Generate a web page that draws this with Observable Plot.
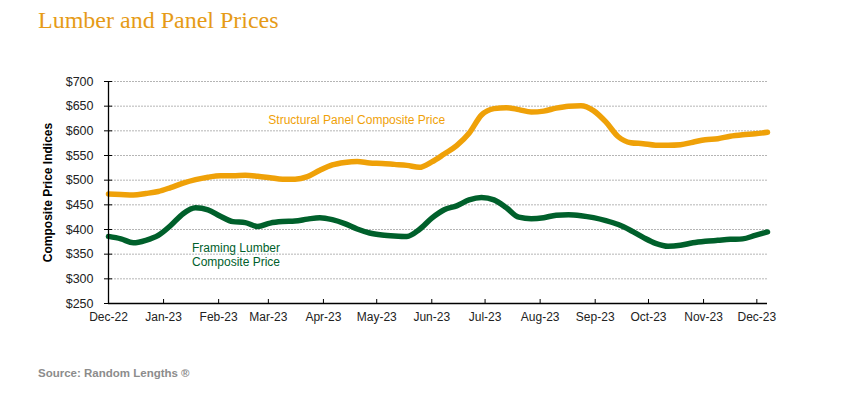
<!DOCTYPE html>
<html>
<head>
<meta charset="utf-8">
<script src="https://cdn.jsdelivr.net/npm/d3@7"></script>
<script src="https://cdn.jsdelivr.net/npm/@observablehq/plot@0.6"></script>
<style>
  html, body { margin: 0; padding: 0; background: #fff; }
  body { width: 848px; height: 397px; position: relative; overflow: hidden; font-family: "Liberation Sans", Arial, sans-serif; }
  #title { position: absolute; left: 38px; top: 8px; font-family: "Liberation Serif", Georgia, serif; font-size: 24px; line-height: 24px; color: #E69B17; white-space: nowrap; }
  #chart { position: absolute; left: 0; top: 40px; }
  #source { position: absolute; left: 38px; top: 366px; font-size: 11.5px; line-height: 14px; font-weight: bold; color: #8c8c8c; white-space: nowrap; }
</style>
</head>
<body>
<div id="title">Lumber and Panel Prices</div>
<div id="chart"></div>
<div id="source">Source: Random Lengths &#174;</div>
<script>
const weeks = [
  "2022-12-01","2022-12-08","2022-12-15","2022-12-22","2022-12-29",
  "2023-01-05","2023-01-12","2023-01-19","2023-01-26",
  "2023-02-02","2023-02-09","2023-02-16","2023-02-23",
  "2023-03-02","2023-03-09","2023-03-16","2023-03-23","2023-03-30",
  "2023-04-06","2023-04-13","2023-04-20","2023-04-27",
  "2023-05-04","2023-05-11","2023-05-18","2023-05-25",
  "2023-06-01","2023-06-08","2023-06-15","2023-06-22","2023-06-29",
  "2023-07-06","2023-07-13","2023-07-20","2023-07-27",
  "2023-08-03","2023-08-10","2023-08-17","2023-08-24","2023-08-31",
  "2023-09-07","2023-09-14","2023-09-21","2023-09-28",
  "2023-10-05","2023-10-12","2023-10-19","2023-10-26",
  "2023-11-02","2023-11-09","2023-11-16","2023-11-23","2023-11-30",
  "2023-12-07"
];
const panelPrice = [
  472,471,470,473,477,
  485,494,501,506,
  509,509,510,508,
  505,502,502,507,520,
  531,536,538,535,
  534,532,530,526,
  537,553,570,595,632,
  645,647,643,638,
  640,646,650,651,641,
  618,588,576,574,
  571,571,572,577,
  582,584,589,592,594,
  597
];
const lumberPrice = [
  386,381,373,378,388,
  408,432,444,440,
  427,416,414,406,
  413,416,417,421,424,
  420,412,401,393,
  389,387,386,400,
  423,440,448,460,465,
  460,444,425,422,
  424,429,430,428,424,
  418,410,398,384,
  372,366,368,373,
  376,378,380,381,388,
  395
];
const monthTicks = [
  "2022-12-01","2023-01-01","2023-02-01","2023-03-01","2023-04-01","2023-05-01",
  "2023-06-01","2023-07-01","2023-08-01","2023-09-01","2023-10-01","2023-11-01","2023-12-01"
];
const yTicks = [250,300,350,400,450,500,550,600,650,700];
const seriesNames = ["Structural Panel Composite Price", "Framing Lumber\nComposite Price"];
const seriesColors = ["#EFA108", "#00602B"];
const labelDates = ["2023-03-01", "2023-01-17"];
const labelValues = [623, 350];

const parse = d3.utcParse("%Y-%m-%d");
const wDates = weeks.map(parse);
const mDates = monthTicks.map(parse);
const panel = wDates.map((d, i) => ({date: d, value: panelPrice[i]}));
const lumber = wDates.map((d, i) => ({date: d, value: lumberPrice[i]}));
const labels = seriesNames.map((n, i) => ({name: n, date: parse(labelDates[i]), value: labelValues[i], color: seriesColors[i]}));

const chart = Plot.plot({
  width: 848,
  height: 300,
  marginLeft: 108,
  marginRight: 81,
  marginTop: 41,
  marginBottom: 37,
  style: {fontFamily: "'Liberation Sans', Arial, sans-serif", fontSize: "12px", color: "#222", background: "#fff"},
  x: {type: "utc", domain: [wDates[0], wDates[wDates.length - 1]]},
  y: {domain: [250, 700]},
  marks: [
    Plot.gridY(yTicks, {stroke: "#b5b5b5", strokeOpacity: 1, strokeDasharray: "2,1"}),
    Plot.line(panel, {x: "date", y: "value", stroke: seriesColors[0], strokeWidth: 5.5, curve: "monotone-x"}),
    Plot.line(lumber, {x: "date", y: "value", stroke: seriesColors[1], strokeWidth: 5.5, curve: "monotone-x"}),
    Plot.text(labels, {x: "date", y: "value", text: "name", fill: "color", textAnchor: "start", fontSize: 12, lineHeight: 1.2}),
    Plot.ruleY([250], {stroke: "#000", strokeWidth: 1.3}),
    Plot.ruleX([wDates[0]], {stroke: "#000", strokeWidth: 1.3}),
    Plot.axisY(yTicks, {tickSize: 0, tickPadding: 15, tickFormat: d => "$" + d, fontSize: 12.5, fill: "#222", label: null}),
    Plot.axisY(yTicks, {tickSize: 8, dx: 4, tickFormat: () => "", label: null, stroke: "#000"}),
    Plot.axisX(mDates, {tickSize: 0, tickPadding: 9, tickFormat: d3.utcFormat("%b-%y"), fontSize: 12, fill: "#222", label: null}),
    Plot.axisX(mDates, {tickSize: 4, dy: -4, tickFormat: () => "", label: null, stroke: "#000"}),
    Plot.text(["Composite Price Indices"], {frameAnchor: "left", textAnchor: "middle", rotate: -90, dx: -60, fontWeight: "bold", fontSize: 12, fill: "#000"})
  ]
});
document.getElementById("chart").appendChild(chart);
</script>
</body>
</html>
